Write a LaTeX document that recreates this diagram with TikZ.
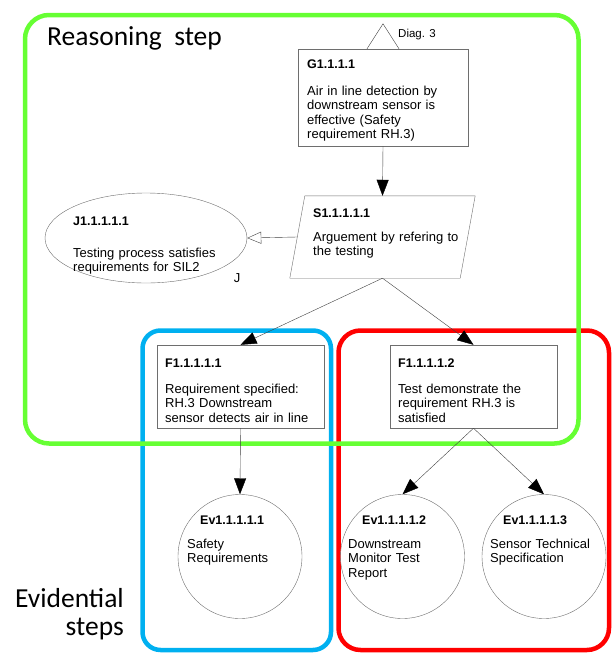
\documentclass[tikz,border=0pt]{standalone}
\usepackage{fontspec}
\setmainfont{Liberation Sans}
\newfontfamily\headfont{Carlito}
\usetikzlibrary{arrows.meta,shapes.geometric}

\definecolor{stepgreen}{RGB}{102,255,51}
\definecolor{stepblue}{RGB}{0,176,240}
\definecolor{stepred}{RGB}{255,0,0}
\definecolor{edgegray}{RGB}{110,110,110}
\definecolor{linegray}{RGB}{64,64,64}

\newcommand{\gsnid}[1]{\textbf{\fontsize{12.5}{14.5}\selectfont #1}}

\begin{document}
\begin{tikzpicture}[x=1pt, y=-1pt,
  gsnbox/.style={draw=edgegray, fill=white, rectangle, inner sep=0pt},
  gsnround/.style={draw=edgegray, fill=white, inner sep=0pt},
  gsntext/.style={anchor=base west, inner sep=0pt, align=left, text width=160pt,
    font=\fontsize{13}{14.5}\selectfont},
  headtext/.style={inner sep=0pt, font=\headfont\fontsize{27.5}{28}\selectfont},
  gsnarrow/.style={draw=linegray, -{Triangle[length=16pt, width=12pt, color=black]}},
  ctxarrow/.style={draw=linegray, -{Triangle[length=14pt, width=12pt, fill=white]}},
  groupbox/.style={line width=4.5pt}]
  \useasboundingbox (0,0) rectangle (611,653);

  % step regions
  \draw[groupbox, stepblue, rounded corners=18pt] (142.5,330.5) rectangle (331,650);
  \draw[groupbox, stepred, rounded corners=22pt] (338.5,330.5) rectangle (609,650);
  \draw[groupbox, stepgreen, rounded corners=24pt] (25,15) rectangle (578.5,443.5);

  \node[headtext, anchor=base west] (reasoning) at (47,45) {Reasoning\ \ step};
  \node[headtext, anchor=base east, text width=120pt, align=right] (evidential) at (124,607) {Evidential\\steps};

  % goal
  \node[gsnbox, minimum width=170pt, minimum height=97pt] (g) at (383,97.5) {};
  \draw[draw=linegray, fill=white] ([xshift=-16pt]g.north) -- ([yshift=25pt]g.north) -- ([xshift=16pt]g.north);
  \node[inner sep=0pt, anchor=base west, font=\fontsize{11.5}{13}\selectfont] (diag) at (398,37) {Diag. 3};
  \node[gsntext] (gtext) at (307,68) {\gsnid{G1.1.1.1}\\[12.5pt]Air in line detection by\\downstream sensor is\\effective (Safety\\requirement RH.3)};

  % strategy
  \node[inner sep=0pt, minimum width=170pt, minimum height=82pt] (s) at (382.5,237) {};
  \draw[draw=edgegray, fill=white] ([xshift=7.5pt]s.north west) -- ([xshift=7.5pt]s.north east)
    -- ([xshift=-7.5pt]s.south east) -- ([xshift=-7.5pt]s.south west) -- cycle;
  \node[gsntext] (stext) at (313,217) {\gsnid{S1.1.1.1.1}\\[9.5pt]Arguement by refering to\\the testing};

  % justification
  \node[gsnround, ellipse, minimum width=202pt, minimum height=90pt] (j) at (146,238) {};
  \node[gsntext] (jtext) at (73,225) {\gsnid{J1.1.1.1.1}\\[17.5pt]Testing process satisfies\\requirements for SIL2};
  \node[inner sep=0pt, anchor=base, font=\fontsize{13}{14.5}\selectfont] (jmark) at (237,282) {J};

  % solutions
  \node[gsnbox, minimum width=167pt, minimum height=83pt] (f1) at (240.5,386.5) {};
  \node[gsntext] (f1text) at (165,367) {\gsnid{F1.1.1.1.1}\\[11.5pt]Requirement specified:\\RH.3 Downstream\\sensor detects air in line};
  \node[gsnbox, minimum width=167pt, minimum height=83pt] (f2) at (473.5,386.5) {};
  \node[gsntext] (f2text) at (398,367) {\gsnid{F1.1.1.1.2}\\[11.5pt]Test demonstrate the\\requirement RH.3 is\\satisfied};

  % evidence
  \node[gsnround, circle, minimum size=124pt] (ev1) at (240,556.5) {};
  \node[gsnround, circle, minimum size=124pt] (ev2) at (402.5,556.5) {};
  \node[gsnround, circle, minimum size=124pt] (ev3) at (544,556.5) {};
  \node[gsntext] (ev1text) at (187,524) {\hspace*{13pt}\gsnid{Ev1.1.1.1.1}\\[9.5pt]Safety\\Requirements};
  \node[gsntext] (ev2text) at (348,524) {\hspace*{14pt}\gsnid{Ev1.1.1.1.2}\\[9.5pt]Downstream\\Monitor Test\\Report};
  \node[gsntext] (ev3text) at (490,524) {\hspace*{13pt}\gsnid{Ev1.1.1.1.3}\\[9.5pt]Sensor Technical\\Specification};

  \draw[gsnarrow] (g.south) -- (s.north);
  \draw[ctxarrow] (s.west) -- (j.east);
  \draw[gsnarrow] (s.south) -- (f1.north);
  \draw[gsnarrow] (s.south) -- (f2.north);
  \draw[gsnarrow] (f1.south) -- (ev1.north);
  \draw[gsnarrow] (f2.south) -- (ev2.north);
  \draw[gsnarrow] (f2.south) -- (ev3.north);
\end{tikzpicture}
\end{document}
